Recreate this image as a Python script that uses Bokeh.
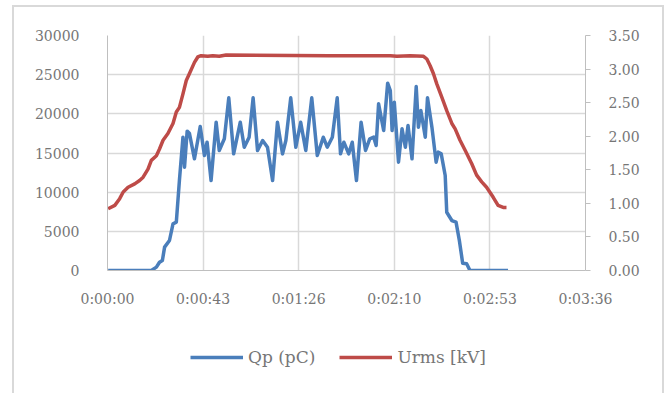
from bokeh.plotting import figure
from bokeh.layouts import column
from bokeh.models import (Range1d, LinearAxis, FixedTicker, NumeralTickFormatter,
                          CustomJSTickFormatter, Legend, LegendItem, BasicTickFormatter)
from bokeh.embed import file_html
from bokeh.resources import INLINE

# ---- data (time in seconds) ----
qp_t = [0.3, 19.8, 22.1, 23.5, 24.8, 25.8, 28.0, 29.6, 31.1, 32.5, 34.1, 34.8, 36.0, 37.0,
        39.3, 41.9, 43.8, 45.0, 46.8, 49.1, 50.5, 52.8, 54.8, 57.0, 60.0, 61.8, 64.0, 65.8,
        67.8, 70.1, 72.3, 74.6, 76.8, 79.1, 80.6, 82.8, 85.1, 87.3, 89.6, 92.3, 94.8, 97.5,
        99.3, 101.6, 103.8, 105.3, 106.8, 109.0, 110.6, 112.5, 114.6, 116.6, 118.5, 120.3,
        121.4, 122.5, 124.8, 126.6, 127.8, 128.6, 129.6, 131.5, 133.1, 134.6, 135.8, 137.6,
        139.5, 140.5, 141.6, 143.6, 144.6, 146.6, 148.5, 149.5, 150.8, 152.6, 153.3, 155.6,
        157.5, 159.0, 160.5, 162.3, 163.8, 181.0]
qp_pc = [0, 0, 430, 1060, 1280, 2980, 3830, 5960, 6170, 11490, 17020, 13190, 17790, 17530,
         14260, 18380, 14680, 16380, 11490, 18930, 15320, 16810, 22040, 14890, 18930, 15740,
         17020, 22040, 15320, 16600, 15740, 11490, 18930, 14890, 16600, 22040, 15740, 18930,
         15320, 22040, 14680, 17020, 15740, 17020, 22040, 14890, 16380, 14890, 16380, 11490,
         18930, 15320, 16810, 17020, 15960, 21280, 17870, 23910, 22980, 17870, 21490, 13830,
         18090, 15740, 18510, 14260, 23490, 18300, 20430, 17020, 22040, 18300, 13830, 15110,
         14890, 12130, 7440, 6380, 6170, 3830, 930, 850, 0, 0]

urms_t = [0.3, 3.3, 5.5, 7.1, 9.3, 12.3, 14.5, 16.1, 18.3, 19.8, 22.1, 23.5, 25.1, 27.3,
          29.6, 31.1, 32.5, 34.1, 35.6, 37.0, 39.3, 40.8, 42.3, 45.3, 47.6, 50.5, 53.6,
          100.0, 127.8, 130.8, 136.8, 142.8, 144.3, 145.8, 147.3, 148.8, 151.1, 153.3,
          155.6, 157.1, 159.3, 161.6, 164.6, 166.8, 169.1, 171.3, 174.3, 176.5, 178.8, 180.3]
urms_kv = [0.92, 0.97, 1.07, 1.17, 1.24, 1.29, 1.34, 1.39, 1.51, 1.64, 1.71, 1.81, 1.94,
           2.04, 2.19, 2.36, 2.43, 2.63, 2.83, 2.93, 3.10, 3.18, 3.20, 3.19, 3.20, 3.19,
           3.21, 3.20, 3.20, 3.19, 3.20, 3.19, 3.15, 3.05, 2.93, 2.78, 2.58, 2.38, 2.19,
           2.11, 1.94, 1.79, 1.59, 1.42, 1.32, 1.24, 1.09, 0.97, 0.94, 0.94]

x_ticks = [0, 43.2, 86.4, 129.6, 172.8, 216]
left_ticks = [0, 5000, 10000, 15000, 20000, 25000, 30000]
right_ticks = [0, 0.5, 1.0, 1.5, 2.0, 2.5, 3.0, 3.5]
series_names = ["Qp (pC)", "Urms [kV]"]

FONT = "DejaVu Serif"
TXT = "#767676"
GRID = "#D9D9D9"
AXIS = "#BFBFBF"
BLUE = "#4A7EBB"
RED = "#BE4B48"

# main chart canvas: page x 14..662, y 7..310 (inside a 2px grey chart border)
p = figure(width=648, height=303, output_backend="svg", toolbar_location=None,
           x_range=Range1d(0, 216), y_range=Range1d(0, 30000),
           min_border_left=93, min_border_right=77, min_border_top=28,
           min_border_bottom=40)
p.outline_line_color = None
p.background_fill_color = "white"
p.border_fill_color = "white"

p.extra_y_ranges = {"kv": Range1d(0, 3.5)}

# x axis
xa = p.xaxis[0]
xa.ticker = FixedTicker(ticks=x_ticks)
xa.formatter = CustomJSTickFormatter(code="""
const s = Math.round(tick);
const h = Math.floor(s / 3600);
const m = Math.floor((s % 3600) / 60);
const ss = s % 60;
return h + ":" + String(m).padStart(2, "0") + ":" + String(ss).padStart(2, "0");
""")
xa.axis_line_color = AXIS
xa.major_tick_line_color = None
xa.minor_tick_line_color = None
xa.major_label_standoff = 14
xa.major_label_text_font = FONT
xa.major_label_text_font_size = "14px"
xa.major_label_text_color = TXT

# left axis
ya = p.yaxis[0]
ya.ticker = FixedTicker(ticks=left_ticks)
ya.formatter = BasicTickFormatter(use_scientific=False)
ya.axis_line_color = AXIS
ya.major_tick_line_color = None
ya.minor_tick_line_color = None
ya.major_label_standoff = 22
ya.major_label_text_font = FONT
ya.major_label_text_font_size = "14px"
ya.major_label_text_color = TXT

# right axis
ra = LinearAxis(y_range_name="kv", ticker=FixedTicker(ticks=right_ticks),
                formatter=NumeralTickFormatter(format="0.00"))
ra.axis_line_color = AXIS
ra.major_tick_line_color = AXIS
ra.major_tick_out = 5
ra.major_tick_in = 0
ra.minor_tick_line_color = None
ra.major_label_standoff = 18
ra.major_label_text_font = FONT
ra.major_label_text_font_size = "14px"
ra.major_label_text_color = TXT
p.add_layout(ra, "right")

p.xgrid.grid_line_color = GRID
p.ygrid.grid_line_color = GRID
p.xgrid.grid_line_width = 1.5
p.ygrid.grid_line_width = 1.5

p.line(qp_t, qp_pc, line_color=BLUE, line_width=3.5, line_join="round")
p.line(urms_t, urms_kv, y_range_name="kv", line_color=RED, line_width=3.5,
       line_join="round")

# legend strip below the chart: page y 310..399 (frame aligned with the chart's frame)
pl = figure(width=648, height=89, output_backend="svg", toolbar_location=None,
            x_range=Range1d(0, 1), y_range=Range1d(0, 1), min_border=0)
pl.axis.visible = False
pl.grid.visible = False
pl.outline_line_color = None
pl.background_fill_color = "white"
pl.border_fill_color = "white"
nan = float("nan")
k1 = pl.line([nan], [nan], line_color=BLUE, line_width=3.5)
k2 = pl.line([nan], [nan], line_color=RED, line_width=3.5)

legend = Legend(items=[LegendItem(label=series_names[0], renderers=[k1]),
                       LegendItem(label=series_names[1], renderers=[k2])],
                orientation="horizontal", location=(83, 32))
legend.border_line_color = None
legend.background_fill_alpha = 0
legend.label_text_font = FONT
legend.label_text_font_size = "17px"
legend.label_text_color = TXT
legend.glyph_width = 53
legend.glyph_height = 18
legend.label_standoff = 5
legend.spacing = 24
legend.padding = 0
legend.margin = 0
pl.add_layout(legend, "center")

page = column(p, pl, spacing=0)
page.margin = (5, 0, 0, 12)
page.styles = {"border": "2px solid #D9D9D9"}

open("out.html", "w").write(file_html(page, INLINE))
